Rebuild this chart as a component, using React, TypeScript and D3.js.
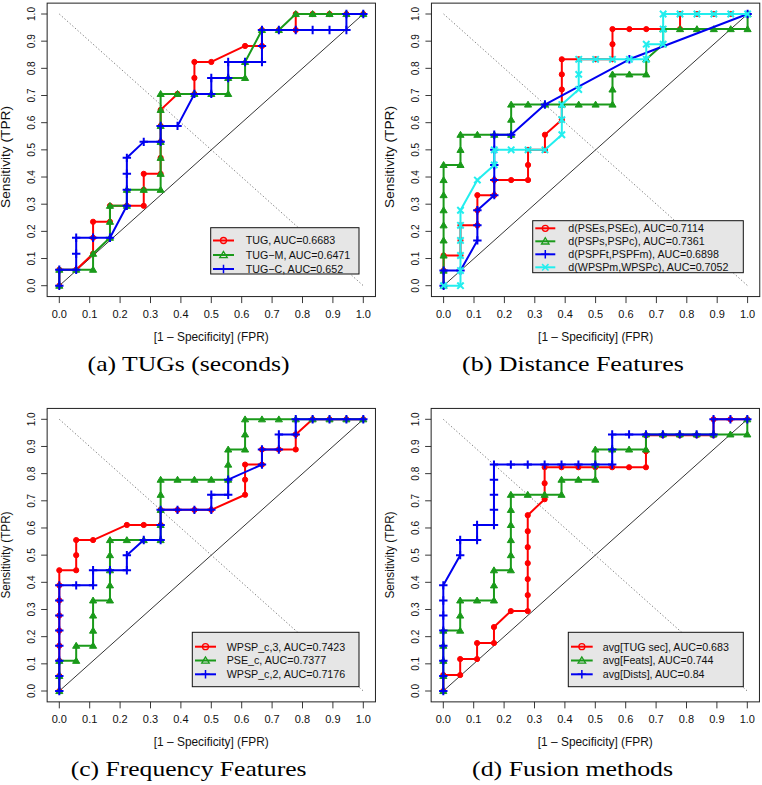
import React from 'react';
import * as d3 from 'd3';

type Pt = [number, number];
type Shape = 'circle' | 'triangle' | 'plus' | 'cross';

// ROC points as [false positives, true positives] counts
// (a) TUGs: 18 negatives, 17 positives
const tugRoc: Pt[] = [[0,0],[0,1],[1,1],[2,2],[2,3],[2,4],[3,4],[3,5],[4,5],[5,5],[5,6],[5,7],[6,7],[6,8],[6,9],[6,10],[6,11],[7,12],[8,12],[8,13],[8,14],[9,14],[11,15],[12,15],[12,16],[13,16],[14,16],[14,17],[15,17],[16,17],[17,17],[18,17]];
const tugMRoc: Pt[] = [[0,0],[0,1],[1,1],[2,1],[2,2],[3,3],[3,4],[3,5],[4,5],[4,6],[5,6],[6,6],[6,7],[6,8],[6,9],[6,10],[6,11],[6,12],[7,12],[8,12],[9,12],[10,12],[10,13],[11,13],[11,14],[12,16],[13,16],[14,17],[15,17],[16,17],[17,17],[18,17]];
const tugCRoc: Pt[] = [[0,0],[0,1],[1,1],[1,2],[1,3],[2,3],[3,3],[4,5],[4,6],[4,7],[4,8],[5,9],[6,9],[6,10],[7,10],[8,12],[9,12],[9,13],[10,13],[10,14],[11,14],[12,14],[12,15],[12,16],[13,16],[14,16],[15,16],[16,16],[17,16],[17,17],[18,17]];

// (b) distance features: 18 / 18
const psesRoc: Pt[] = [[0,0],[0,1],[0,2],[1,2],[1,3],[1,4],[2,4],[2,5],[2,6],[3,6],[3,7],[4,7],[5,7],[5,8],[5,9],[6,9],[6,10],[7,11],[7,12],[7,13],[7,14],[7,15],[8,15],[9,15],[10,15],[10,16],[10,17],[11,17],[12,17],[13,17],[14,17],[14,18],[15,18],[16,18],[17,18],[18,18]];
const pspsRoc: Pt[] = [[0,0],[0,1],[0,2],[0,3],[0,4],[0,5],[0,6],[0,7],[0,8],[1,8],[1,9],[1,10],[2,10],[3,10],[4,10],[4,11],[4,12],[5,12],[6,12],[7,12],[8,12],[9,12],[10,12],[10,13],[10,14],[11,14],[12,14],[12,15],[13,16],[13,17],[14,17],[15,17],[16,17],[17,17],[18,17],[18,18]];
const pspfRoc: Pt[] = [[0,0],[0,1],[1,1],[2,3],[2,4],[2,5],[3,6],[3,7],[3,8],[3,9],[3,10],[4,10],[6,12],[11,15],[18,18]];
const wpspRoc: Pt[] = [[0,0],[1,0],[1,1],[1,2],[1,3],[1,4],[1,5],[2,7],[3,8],[3,9],[4,9],[5,9],[6,9],[7,10],[7,11],[7,12],[8,13],[8,14],[8,15],[9,15],[10,15],[11,15],[12,15],[12,16],[13,16],[13,17],[13,18],[14,18],[15,18],[16,18],[17,18],[18,18]];

// (c) frequency features: 18 / 18
const wpsp3Roc: Pt[] = [[0,0],[0,1],[0,2],[0,3],[0,4],[0,5],[0,6],[0,7],[0,8],[1,8],[1,9],[1,10],[2,10],[4,11],[5,11],[6,11],[6,12],[7,12],[8,12],[9,12],[11,13],[11,14],[11,15],[12,15],[12,16],[13,16],[14,16],[14,17],[15,18],[16,18],[17,18],[18,18]];
const pseCRoc: Pt[] = [[0,0],[0,1],[0,2],[1,2],[1,3],[2,3],[2,4],[2,5],[2,6],[3,6],[3,7],[3,8],[3,9],[3,10],[4,10],[5,10],[6,10],[6,11],[6,12],[6,13],[6,14],[7,14],[8,14],[9,14],[10,14],[10,15],[10,16],[11,16],[11,17],[11,18],[12,18],[13,18],[14,18],[15,18],[16,18],[17,18],[18,18]];
const wpsp2Roc: Pt[] = [[0,0],[0,1],[0,2],[0,3],[0,4],[0,5],[0,6],[0,7],[1,7],[2,7],[2,8],[3,8],[4,8],[4,9],[5,10],[6,10],[6,11],[6,12],[7,12],[8,12],[9,12],[9,13],[10,13],[10,14],[12,15],[12,16],[13,16],[13,17],[14,17],[14,18],[15,18],[16,18],[17,18],[18,18]];

// (d) fusion: TUG 18 / 17, others 18 / 18
const avgTugRoc: Pt[] = [[0,0],[0,1],[1,1],[1,2],[2,2],[2,3],[3,3],[3,4],[4,5],[5,5],[5,6],[5,7],[5,8],[5,9],[5,10],[5,11],[6,12],[6,13],[6,14],[7,14],[8,14],[9,14],[10,14],[11,14],[12,14],[12,15],[12,16],[13,16],[14,16],[15,16],[16,16],[16,17],[17,17],[18,17]];
const avgFeatsRoc: Pt[] = [[0,0],[0,1],[0,2],[0,3],[0,4],[1,4],[1,5],[1,6],[2,6],[3,6],[3,7],[3,8],[4,8],[4,9],[4,10],[4,11],[4,12],[4,13],[5,13],[6,13],[7,13],[7,14],[8,14],[9,14],[9,15],[9,16],[10,16],[11,16],[12,16],[12,17],[13,17],[14,17],[15,17],[16,17],[17,17],[18,17],[18,18]];
const avgDistsRoc: Pt[] = [[0,0],[0,1],[0,2],[0,3],[0,4],[0,5],[0,6],[0,7],[1,9],[1,10],[2,10],[2,11],[3,11],[3,12],[3,13],[3,14],[3,15],[4,15],[5,15],[6,15],[7,15],[8,15],[9,15],[10,15],[10,16],[10,17],[11,17],[12,17],[13,17],[14,17],[15,17],[16,17],[16,18],[17,18],[18,18]];

const tickValues = [0, 0.1, 0.2, 0.3, 0.4, 0.5, 0.6, 0.7, 0.8, 0.9, 1.0];

const RED = '#ff0000';
const GREEN = '#1a9a1a';
const BLUE = '#0000f0';
const CYAN = '#22eeee';

const sans = '"Liberation Sans", Arial, Helvetica, sans-serif';
const serif = '"Liberation Serif", "Times New Roman", serif';

interface Series { label: string; pts: Pt[]; nNeg: number; nPos: number; color: string; shape: Shape; }
interface Legend { x: number; y: number; w: number; h: number; rows: number[]; l0: number; l1: number; tx: number; }
interface PanelSpec { left: number; top: number; caption: string; capW: number; yLabY: number; yLabLen: number; series: Series[]; legend: Legend; }

const W = 304, H = 271.7;

const panels: PanelSpec[] = [
  {
    left: 59.3, top: 14, caption: '(a) TUGs (seconds)', capW: 202, yLabY: 157, yLabLen: 102,
    series: [
      { label: 'TUG, AUC=0.6683', pts: tugRoc, nNeg: 18, nPos: 17, color: RED, shape: 'circle' },
      { label: 'TUG\u2212M, AUC=0.6471', pts: tugMRoc, nNeg: 18, nPos: 17, color: GREEN, shape: 'triangle' },
      { label: 'TUG\u2212C, AUC=0.652', pts: tugCRoc, nNeg: 18, nPos: 17, color: BLUE, shape: 'plus' },
    ],
    legend: { x: 210.7, y: 227.7, w: 148.3, h: 46.3, rows: [240.5, 255, 269], l0: 213, l1: 234, tx: 245.7 },
  },
  {
    left: 443.6, top: 14, caption: '(b) Distance Features', capW: 221.7, yLabY: 157, yLabLen: 102,
    series: [
      { label: 'd(PSEs,PSEc), AUC=0.7114', pts: psesRoc, nNeg: 18, nPos: 18, color: RED, shape: 'circle' },
      { label: 'd(PSPs,PSPc), AUC=0.7361', pts: pspsRoc, nNeg: 18, nPos: 18, color: GREEN, shape: 'triangle' },
      { label: 'd(PSPFt,PSPFm), AUC=0.6898', pts: pspfRoc, nNeg: 18, nPos: 18, color: BLUE, shape: 'plus' },
      { label: 'd(WPSPm,WPSPc), AUC=0.7052', pts: wpspRoc, nNeg: 18, nPos: 18, color: CYAN, shape: 'cross' },
    ],
    legend: { x: 532.7, y: 220.7, w: 210.6, h: 52, rows: [228.3, 241.3, 254.3, 267.3], l0: 535.3, l1: 555.3, tx: 568.3 },
  },
  {
    left: 59.3, top: 419.3, caption: '(c) Frequency Features', capW: 235.7, yLabY: 555, yLabLen: 87,
    series: [
      { label: 'WPSP_c,3, AUC=0.7423', pts: wpsp3Roc, nNeg: 18, nPos: 18, color: RED, shape: 'circle' },
      { label: 'PSE_c, AUC=0.7377', pts: pseCRoc, nNeg: 18, nPos: 18, color: GREEN, shape: 'triangle' },
      { label: 'WPSP_c,2, AUC=0.7176', pts: wpsp2Roc, nNeg: 18, nPos: 18, color: BLUE, shape: 'plus' },
    ],
    legend: { x: 192.3, y: 632.3, w: 166.7, h: 54.4, rows: [646.7, 660.5, 674.3], l0: 195, l1: 216, tx: 226.7 },
  },
  {
    left: 443.3, top: 419.3, caption: '(d) Fusion methods', capW: 201, yLabY: 555, yLabLen: 87,
    series: [
      { label: 'avg[TUG sec], AUC=0.683', pts: avgTugRoc, nNeg: 18, nPos: 17, color: RED, shape: 'circle' },
      { label: 'avg[Feats], AUC=0.744', pts: avgFeatsRoc, nNeg: 18, nPos: 18, color: GREEN, shape: 'triangle' },
      { label: 'avg[Dists], AUC=0.84', pts: avgDistsRoc, nNeg: 18, nPos: 18, color: BLUE, shape: 'plus' },
    ],
    legend: { x: 568.3, y: 632.3, w: 175, h: 54.4, rows: [646.7, 660.5, 674.3], l0: 571, l1: 592.7, tx: 602.7 },
  },
];

function Marker({ shape, cx, cy, color, open }: { shape: Shape; cx: number; cy: number; color: string; open?: boolean }) {
  if (shape === 'circle') {
    return open
      ? <circle cx={cx} cy={cy} r={3} fill="none" stroke={color} strokeWidth={1.3} />
      : <circle cx={cx} cy={cy} r={2.6} fill={color} stroke={color} strokeWidth={1} />;
  }
  if (shape === 'triangle') {
    const s = open ? 3.6 : 3.4;
    const p = `${cx},${cy - s} ${cx - s * 1.05},${cy + s * 0.75} ${cx + s * 1.05},${cy + s * 0.75}`;
    return <polygon points={p} fill={open ? 'none' : color} stroke={color} strokeWidth={open ? 1.3 : 1} />;
  }
  if (shape === 'plus') {
    const a = 4.2;
    return <path d={`M${cx - a},${cy}H${cx + a}M${cx},${cy - a}V${cy + a}`} stroke={color} strokeWidth={open ? 1.5 : 2} />;
  }
  const a = 3.2;
  return <path d={`M${cx - a},${cy - a}L${cx + a},${cy + a}M${cx - a},${cy + a}L${cx + a},${cy - a}`} stroke={color} strokeWidth={open ? 1.5 : 2} />;
}

function Panel({ p }: { p: PanelSpec }) {
  const x = d3.scaleLinear().domain([0, 1]).range([p.left, p.left + W]);
  const y = d3.scaleLinear().domain([0, 1]).range([p.top + H, p.top]);
  const bx0 = x(-0.04), bx1 = x(1.04), by0 = y(1.04), by1 = y(-0.04);
  const boxCx = (bx0 + bx1) / 2;
  const lg = p.legend;

  return (
    <g>
      {/* chance line and its mirror */}
      <line x1={x(0)} y1={y(0)} x2={x(1)} y2={y(1)} stroke="#000" strokeWidth={0.8} />
      <line x1={x(0)} y1={y(1)} x2={x(1)} y2={y(0)} stroke="#444" strokeWidth={0.7} strokeDasharray="1.3,2.2" />

      {p.series.map((s, k) => {
        const line = d3.line<Pt>().x(d => x(d[0] / s.nNeg)).y(d => y(d[1] / s.nPos));
        return (
          <g key={k}>
            <path d={line(s.pts) || ''} fill="none" stroke={s.color} strokeWidth={2} strokeLinejoin="round" />
            {s.pts.map((d, i) => (
              <Marker key={i} shape={s.shape} cx={x(d[0] / s.nNeg)} cy={y(d[1] / s.nPos)} color={s.color} />
            ))}
          </g>
        );
      })}

      {/* legend */}
      <rect x={lg.x} y={lg.y} width={lg.w} height={lg.h} fill="#e6e6e6" stroke="#111" strokeWidth={1} />
      {p.series.map((s, k) => (
        <g key={k}>
          <line x1={lg.l0} x2={lg.l1} y1={lg.rows[k]} y2={lg.rows[k]} stroke={s.color} strokeWidth={2} />
          <Marker shape={s.shape} cx={(lg.l0 + lg.l1) / 2} cy={lg.rows[k]} color={s.color} open />
          <text x={lg.tx} y={lg.rows[k]} dy="0.36em" fontSize={10.7} fontFamily={sans} fill="#111">{s.label}</text>
        </g>
      ))}

      {/* box + axes */}
      <rect x={bx0} y={by0} width={bx1 - bx0} height={by1 - by0} fill="none" stroke="#222" strokeWidth={1} />
      {tickValues.map(t => (
        <g key={'x' + t}>
          <line x1={x(t)} x2={x(t)} y1={by1} y2={by1 + 6.5} stroke="#222" strokeWidth={0.9} />
          <text x={x(t)} y={by1 + 21.3} textAnchor="middle" fontSize={11} fontFamily={sans} fill="#111">{t.toFixed(1)}</text>
        </g>
      ))}
      {tickValues.map(t => (
        <g key={'y' + t}>
          <line x1={bx0} x2={bx0 - 6} y1={y(t)} y2={y(t)} stroke="#222" strokeWidth={0.9} />
          <text transform={`translate(${bx0 - 12.6},${y(t)}) rotate(-90)`} textAnchor="middle" fontSize={11.5}
            fontFamily={sans} fill="#111" textLength={14} lengthAdjust="spacingAndGlyphs">{t.toFixed(1)}</text>
        </g>
      ))}
      <text x={boxCx} y={by1 + 44.3} textAnchor="middle" fontSize={11.9} fontFamily={sans} fill="#111">
        [1 {'\u2013'} Specificity] (FPR)
      </text>
      <text transform={`translate(${bx0 - 37.5},${p.yLabY}) rotate(-90)`} textAnchor="middle" fontSize={12.5}
        fontFamily={sans} fill="#111" textLength={p.yLabLen} lengthAdjust="spacingAndGlyphs">Sensitivity (TPR)</text>

      <text x={boxCx - 22.7} y={by1 + 74.5} textAnchor="middle" fontSize={21.5} fontFamily={serif} fill="#000"
        textLength={p.capW} lengthAdjust="spacingAndGlyphs">{p.caption}</text>
    </g>
  );
}

export default function App() {
  return (
    <svg width={762} height={785} style={{ position: 'absolute', left: 0, top: 0, background: '#fff' }}>
      <rect x={0} y={0} width={762} height={785} fill="#fff" />
      {panels.map((p, i) => <Panel key={i} p={p} />)}
    </svg>
  );
}
